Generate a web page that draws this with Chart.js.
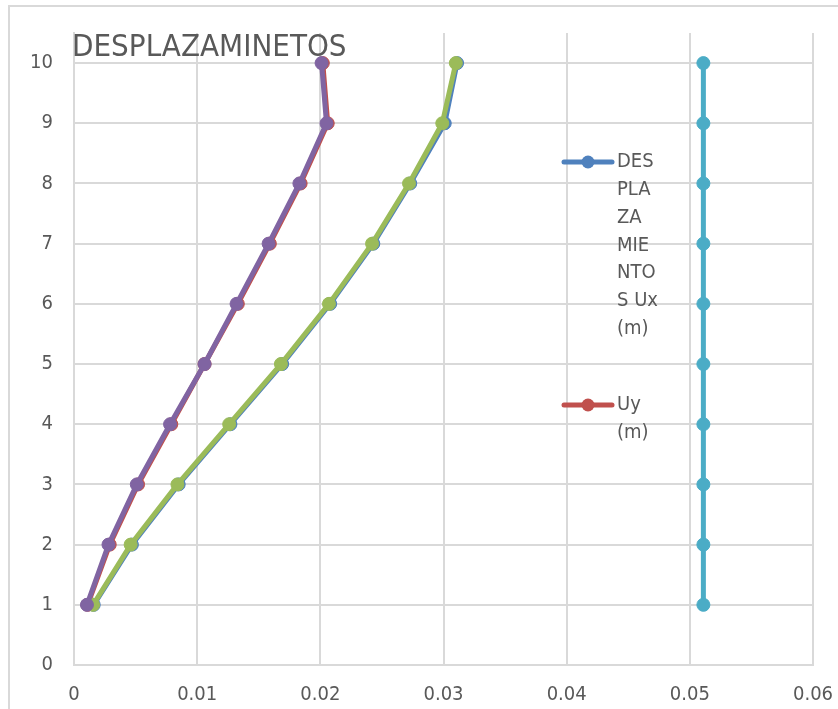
<!DOCTYPE html>
<html>
<head>
<meta charset="utf-8">
<script src="https://cdn.jsdelivr.net/npm/chart.js@4.4.1/dist/chart.umd.min.js"></script>
<style>
  html, body { margin: 0; padding: 0; background: #ffffff; }
  #frame {
    position: absolute; left: 8px; top: 5px; width: 840px; height: 710px;
    border-left: 2px solid #d9d9d9; border-top: 2px solid #d9d9d9; box-sizing: border-box;
  }
  #wrap { position: absolute; left: 0; top: 0; width: 838px; height: 709px; }
</style>
</head>
<body>
<div id="frame"></div>
<div id="wrap"><canvas id="c" width="838" height="709"></canvas></div>
<script>
// Storey levels (vertical axis)
const storeys = [1, 2, 3, 4, 5, 6, 7, 8, 9, 10];

// Displacements per storey (m)
const ux1 = [0.0016, 0.0047, 0.0085, 0.0127, 0.0169, 0.0208, 0.0243, 0.0273, 0.0301, 0.0311];
const uy1 = [0.0011, 0.0029, 0.0052, 0.0079, 0.0106, 0.0133, 0.0159, 0.0184, 0.0206, 0.0202];
const ux2 = [0.00155, 0.0046, 0.0084, 0.0126, 0.0168, 0.0207, 0.0242, 0.0272, 0.0299, 0.0310];
const uy2 = [0.00105, 0.0028, 0.0051, 0.0078, 0.0106, 0.0132, 0.0158, 0.0183, 0.0205, 0.0201];
const limitX = [0.0511, 0.0511, 0.0511, 0.0511, 0.0511, 0.0511, 0.0511, 0.0511, 0.0511, 0.0511];

// Axis ticks
const xTicks = [0, 0.01, 0.02, 0.03, 0.04, 0.05, 0.06];
const yTicks = [0, 1, 2, 3, 4, 5, 6, 7, 8, 9, 10];

// Text
const chartTitle = 'DESPLAZAMINETOS';
const seriesNames = ['DESPLAZAMIENTOS Ux (m)', 'Uy (m)', 'Ux', 'Uy', 'Limite'];
const legendLines = [
  ['DES', 'PLA', 'ZA', 'MIE', 'NTO', 'S Ux', '(m)'],
  ['Uy', '(m)']
];

const colors = ['#4f81bd', '#c0504d', '#9bbb59', '#8064a2', '#4bacc6'];
const FONT = "'Liberation Sans Narrow', 'DejaVu Sans Condensed', 'Liberation Sans', sans-serif";
const TEXT = '#595959';
const GRID = '#d9d9d9';

function pts(xs) { return xs.map((x, i) => ({ x: x, y: storeys[i] })); }

function series(idx, xs, order) {
  return {
    label: seriesNames[idx],
    data: pts(xs),
    showLine: true,
    borderColor: colors[idx],
    backgroundColor: colors[idx],
    pointBackgroundColor: colors[idx],
    pointBorderColor: colors[idx],
    borderWidth: 5,
    pointRadius: 6.5,
    pointBorderWidth: 1,
    order: order
  };
}

// Title text drawn inside the plot's top-left corner
const titlePlugin = {
  id: 'cornerTitle',
  beforeDatasetsDraw(chart) {
    const ctx = chart.ctx;
    ctx.save();
    ctx.font = '31px ' + FONT;
    ctx.fillStyle = TEXT;
    ctx.textAlign = 'left';
    ctx.textBaseline = 'alphabetic';
    ctx.fillText(chartTitle, 72, 56);
    ctx.restore();
  }
};

// Legend with wrapped labels, placed inside the plot area
const wrapLegend = {
  id: 'wrapLegend',
  afterDatasetsDraw(chart) {
    const ctx = chart.ctx;
    const starts = [162, 405];
    const lineGap = 27.8;
    ctx.save();
    legendLines.forEach((lines, i) => {
      const ds = chart.data.datasets[i];
      const y0 = starts[i];
      ctx.strokeStyle = ds.borderColor;
      ctx.lineWidth = 5;
      ctx.lineCap = 'round';
      ctx.beginPath();
      ctx.moveTo(564, y0);
      ctx.lineTo(612, y0);
      ctx.stroke();
      ctx.fillStyle = ds.backgroundColor;
      ctx.beginPath();
      ctx.arc(588, y0, 6.5, 0, Math.PI * 2);
      ctx.fill();
      ctx.font = '20px ' + FONT;
      ctx.fillStyle = TEXT;
      ctx.textAlign = 'left';
      ctx.textBaseline = 'middle';
      lines.forEach((t, k) => ctx.fillText(t, 617, y0 + k * lineGap));
    });
    ctx.restore();
  }
};

new Chart(document.getElementById('c'), {
  type: 'scatter',
  data: {
    datasets: [
      series(0, ux1, 5),
      series(1, uy1, 4),
      series(2, ux2, 3),
      series(3, uy2, 2),
      series(4, limitX, 1)
    ]
  },
  options: {
    responsive: false,
    animation: false,
    devicePixelRatio: 1,
    layout: { padding: { top: 33, right: 25, left: 0, bottom: 0 } },
    plugins: {
      legend: { display: false },
      title: { display: false },
      tooltip: { enabled: false }
    },
    scales: {
      x: {
        type: 'linear',
        min: 0,
        max: 0.06,
        afterBuildTicks(scale) { scale.ticks = xTicks.map(v => ({ value: v })); },
        afterFit(scale) {
          scale.height = 44;
          scale.paddingLeft = 0;
          scale.paddingRight = 0;
        },
        ticks: {
          color: TEXT,
          font: { family: FONT, size: 20 },
          padding: 18,
          maxRotation: 0,
          callback: v => String(v)
        },
        grid: { color: GRID, lineWidth: 2, drawTicks: false },
        border: { color: GRID, width: 2 }
      },
      y: {
        type: 'linear',
        min: 0,
        max: 10.5,
        afterBuildTicks(scale) { scale.ticks = yTicks.map(v => ({ value: v })); },
        afterFit(scale) {
          scale.width = 74;
          scale.paddingTop = 0;
          scale.paddingBottom = 0;
        },
        ticks: {
          color: TEXT,
          font: { family: FONT, size: 20 },
          padding: 21,
          callback: v => String(v)
        },
        grid: { color: GRID, lineWidth: 2, drawTicks: false },
        border: { color: GRID, width: 2 }
      }
    }
  },
  plugins: [titlePlugin, wrapLegend]
});
</script>
</body>
</html>
